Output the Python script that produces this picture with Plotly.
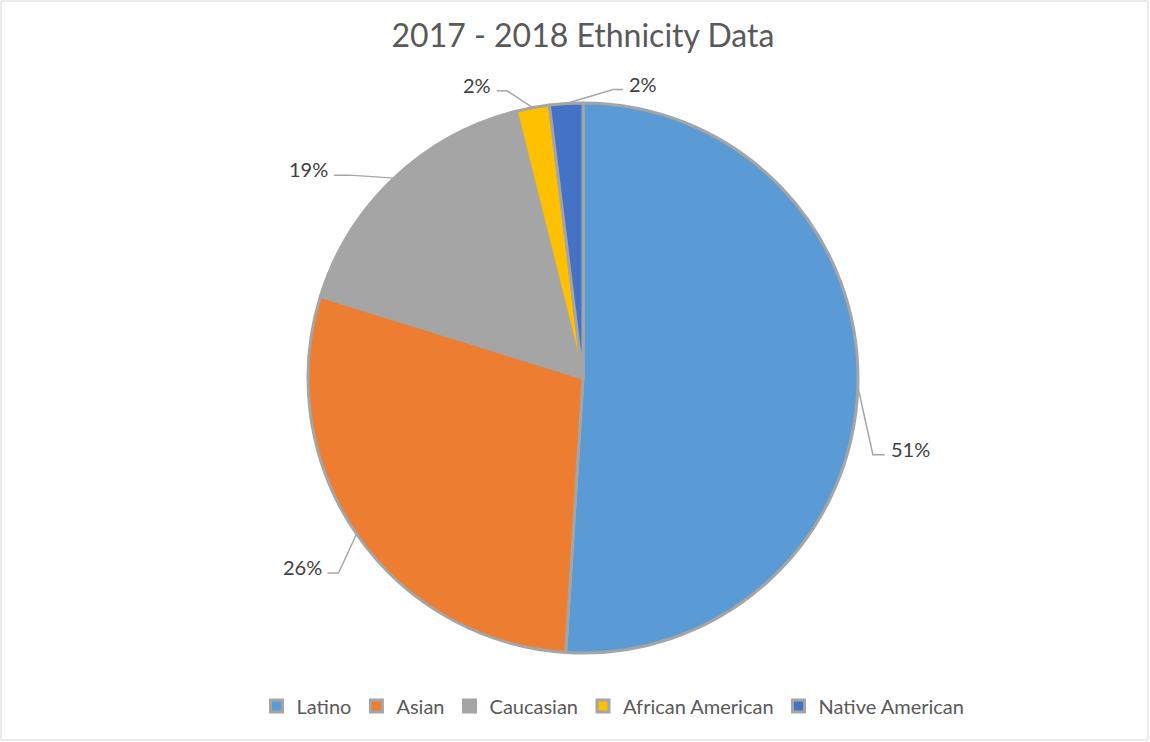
import math
import plotly.graph_objects as go

# ---- data ----
categories = ["Latino", "Asian", "Caucasian", "African American", "Native American"]
shares = [51.0, 28.8, 16.3, 1.95, 1.95]          # slice sizes as drawn
label_texts = ["51%", "26%", "19%", "2%", "2%"]   # data labels as printed
title_text = "2017 - 2018 Ethnicity Data"

# ---- style ----
colors = ["#5B9BD5", "#ED7D31", "#A5A5A5", "#FFC000", "#4472C4"]
W, H = 1150, 742
pie_left, pie_right, pie_top, pie_bottom = 308, 858, 103, 653
# leader line style per slice: elbow offset (dx, dy) from rim, horizontal run
leader_style = [(15, 68, 12), (-18, 39, -11), (-45, -3, -15), (-26, -17, -10), (47, -14, 10)]
FONT = "Lato"
TXT = "#404040"
LINE = "#A6A6A6"

cx = (pie_left + pie_right) / 2
cy = (pie_top + pie_bottom) / 2
R = (pie_right - pie_left) / 2

def px(x):
    return x / W

def py(y):
    return 1 - y / H

fig = go.Figure(go.Pie(
    labels=categories,
    values=shares,
    sort=False,
    direction="clockwise",
    rotation=0,
    textinfo="none",
    hoverinfo="label+percent",
    marker=dict(colors=colors, line=dict(color="#A5A5A5", width=3)),
    domain=dict(x=[px(pie_left), px(pie_right)], y=[py(pie_bottom), py(pie_top)]),
))

shapes = []
annotations = []
total = sum(shares)
acc = 0.0
for val, txt, (dx, dy, run) in zip(shares, label_texts, leader_style):
    a0 = acc / total * 2 * math.pi
    acc += val
    a1 = acc / total * 2 * math.pi
    mid = (a0 + a1) / 2
    rx = cx + R * math.sin(mid)
    ry = cy - R * math.cos(mid)
    ex, ey = rx + dx, ry + dy
    lx, ly = ex + run, ey
    path = f"M {px(rx)} {py(ry)} L {px(ex)} {py(ey)} L {px(lx)} {py(ly)}"
    shapes.append(dict(type="path", path=path, xref="paper", yref="paper",
                       line=dict(color=LINE, width=1.5)))
    side = 1 if run > 0 else -1
    annotations.append(dict(
        text=txt, x=px(lx + side * 4), y=py(ly - 6), xref="paper", yref="paper",
        xanchor="left" if side > 0 else "right", yanchor="middle",
        showarrow=False, font=dict(family=FONT, size=20, color=TXT)))

# chart border
shapes.append(dict(type="rect", xref="paper", yref="paper",
                   x0=px(1), x1=px(1148), y0=py(740), y1=py(1),
                   line=dict(color="#D9D9D9", width=1), fillcolor="rgba(0,0,0,0)"))

fig.update_layout(
    width=W, height=H,
    margin=dict(l=0, r=0, t=0, b=0),
    paper_bgcolor="white",
    plot_bgcolor="white",
    title=dict(text=title_text, x=px(583), y=py(36), xanchor="center", yanchor="middle",
               font=dict(family=FONT, size=32, color="#595959")),
    showlegend=True,
    legend=dict(orientation="h", x=px(613), y=py(706), xanchor="center", yanchor="middle",
                font=dict(family=FONT, size=20, color="#595959"), traceorder="normal"),
    shapes=shapes,
    annotations=annotations,
)

fig.write_html("out.html")
